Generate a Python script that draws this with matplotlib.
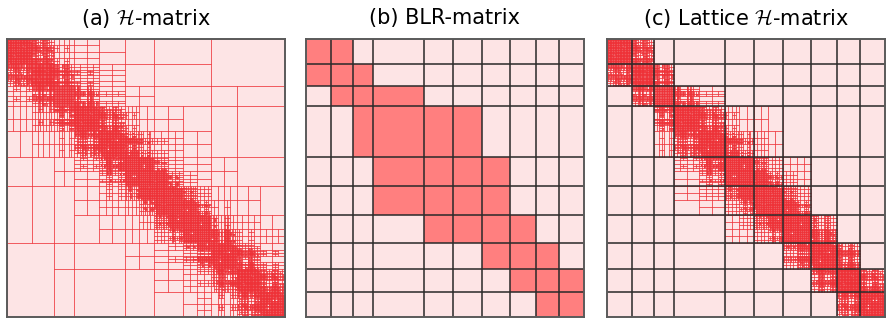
import numpy as np
import matplotlib
matplotlib.use("Agg")
import matplotlib.pyplot as plt
from matplotlib.patches import Rectangle
from matplotlib.collections import PatchCollection, LineCollection

plt.rcParams['font.family'] = ['DejaVu Sans']
plt.rcParams['mathtext.fontset'] = 'cm'

titles = [r'(a) $\mathcal{H}$-matrix', '(b) BLR-matrix', r'(c) Lattice $\mathcal{H}$-matrix']

# lattice / BLR cluster boundaries (fraction of the matrix size)
lattice_edges = [0, 0.09, 0.17, 0.24, 0.424, 0.53, 0.633, 0.734, 0.826, 0.91, 1.0]

# BLR blocks kept dense, per block row
dense_cols = [
    [0, 1],
    [0, 1, 2],
    [1, 2, 3],
    [2, 3, 4, 5],
    [3, 4, 5, 6],
    [3, 4, 5, 6],
    [4, 5, 6, 7],
    [6, 7, 8],
    [7, 8, 9],
    [8, 9],
]

# how the lattice clusters are merged into the top of the cluster tree
slab_tree = (((0, 1), (2, 3)), ((4, (5, 6)), (7, (8, 9))))

# geometry: points on a strip, cut into slabs along x
nx, ny = 340, 34
leaf_size = 110
eta = 0.5

pink = '#fde4e5'
salmon = '#ff7f7f'
red = '#ee3036'
dense_red = '#ec4246'
grid_col = '#2a2a2a'


class Node:
    def __init__(self, lo, hi, pts, kids):
        self.lo, self.hi = lo, hi
        self.bmin = pts.min(axis=0)
        self.bmax = pts.max(axis=0)
        self.kids = kids

    @property
    def n(self):
        return self.hi - self.lo


def bisect(pts, start):
    k = len(pts)
    if k <= leaf_size:
        return Node(start, start + k, pts, [])
    ext = pts.max(axis=0) - pts.min(axis=0)
    ax_ = int(np.argmax(ext))
    mid = 0.5 * (pts[:, ax_].max() + pts[:, ax_].min())
    left = pts[pts[:, ax_] < mid]
    right = pts[pts[:, ax_] >= mid]
    c1 = bisect(left, start)
    c2 = bisect(right, start + len(left))
    return Node(start, start + k, pts, [c1, c2])


xs = (np.arange(nx) + 0.5) / nx
ys = (np.arange(ny) + 0.5) / nx
gx, gy = np.meshgrid(xs, ys, indexing='ij')
all_pts = np.column_stack([gx.ravel(), gy.ravel()])
N = len(all_pts)

slab_pts = []
for k in range(len(lattice_edges) - 1):
    i0 = int(round(lattice_edges[k] * nx))
    i1 = int(round(lattice_edges[k + 1] * nx))
    m = (gx.ravel() >= xs[i0] - 1e-9) & (gx.ravel() <= xs[i1 - 1] + 1e-9)
    slab_pts.append(all_pts[m])

slab_nodes = {}
offset = [0]


def build(tree):
    if isinstance(tree, int):
        node = bisect(slab_pts[tree], offset[0])
        offset[0] += node.n
        slab_nodes[tree] = node
        return node
    kids = [build(t) for t in tree]
    pts = np.vstack([np.vstack([k.bmin, k.bmax]) for k in kids])
    return Node(kids[0].lo, kids[-1].hi, pts, kids)


root = build(slab_tree)


def admissible(a, b):
    da = np.linalg.norm(a.bmax - a.bmin)
    db = np.linalg.norm(b.bmax - b.bmin)
    gap = np.maximum(0, np.maximum(a.bmin - b.bmax, b.bmin - a.bmax))
    dist = np.linalg.norm(gap)
    return dist > 0 and min(da, db) <= eta * dist


def partition(a, b, out):
    if admissible(a, b):
        out.append((a, b, False))
        return
    if not a.kids and not b.kids:
        out.append((a, b, True))
        return
    if a.kids and b.kids:
        for ca in a.kids:
            for cb in b.kids:
                partition(ca, cb, out)
    elif a.kids:
        for ca in a.kids:
            partition(ca, b, out)
    else:
        for cb in b.kids:
            partition(a, cb, out)


def block_rect(a, b):
    return Rectangle((b.lo / N, a.lo / N), b.n / N, a.n / N)


def draw_hblocks(ax, blocks):
    dense = [block_rect(a, b) for a, b, d in blocks if d]
    ax.add_collection(PatchCollection(dense, facecolor=dense_red, edgecolor='none',
                                      alpha=0.85, zorder=2))
    rects = [block_rect(a, b) for a, b, d in blocks]
    ax.add_collection(PatchCollection(rects, facecolor='none', edgecolor=red,
                                      linewidth=0.6, alpha=0.6, zorder=3))


def setup(ax):
    ax.set_xlim(0, 1)
    ax.set_ylim(1, 0)
    ax.set_xticks([])
    ax.set_yticks([])
    ax.add_patch(Rectangle((0, 0), 1, 1, facecolor=pink, edgecolor='none', zorder=1))
    for s in ax.spines.values():
        s.set_color('#5a5a5a')
        s.set_linewidth(1.4)
        s.set_zorder(6)


def draw_lattice(ax):
    segs = []
    for e in lattice_edges[1:-1]:
        segs.append([(e, 0), (e, 1)])
        segs.append([(0, e), (1, e)])
    ax.add_collection(LineCollection(segs, colors=grid_col, linewidths=1.3, alpha=0.85, zorder=5))


fig = plt.figure(figsize=(8.86, 3.2), dpi=100)
W, H = 886, 320
lefts = [7, 306, 607]
axes = [fig.add_axes([l / W, 3 / H, 278 / W, 278 / H]) for l in lefts]
for ax in axes:
    setup(ax)

# (a) full H-matrix
blocks_h = []
partition(root, root, blocks_h)
draw_hblocks(axes[0], blocks_h)

# (b) BLR-matrix
ax = axes[1]
for i, cols in enumerate(dense_cols):
    for j in cols:
        e = lattice_edges
        ax.add_patch(Rectangle((e[j], e[i]), e[j + 1] - e[j], e[i + 1] - e[i],
                               facecolor=salmon, edgecolor='none', zorder=2))
draw_lattice(ax)

# (c) lattice H-matrix: H-structure inside the dense lattice blocks
blocks_l = []
for i, cols in enumerate(dense_cols):
    for j in cols:
        partition(slab_nodes[i], slab_nodes[j], blocks_l)
draw_hblocks(axes[2], blocks_l)
draw_lattice(axes[2])

for l, t in zip(lefts, titles):
    fig.text((l + 139) / W, 1 - 18 / H, t, ha='center', va='center', fontsize=15)

fig.savefig('out.png', dpi=100)
